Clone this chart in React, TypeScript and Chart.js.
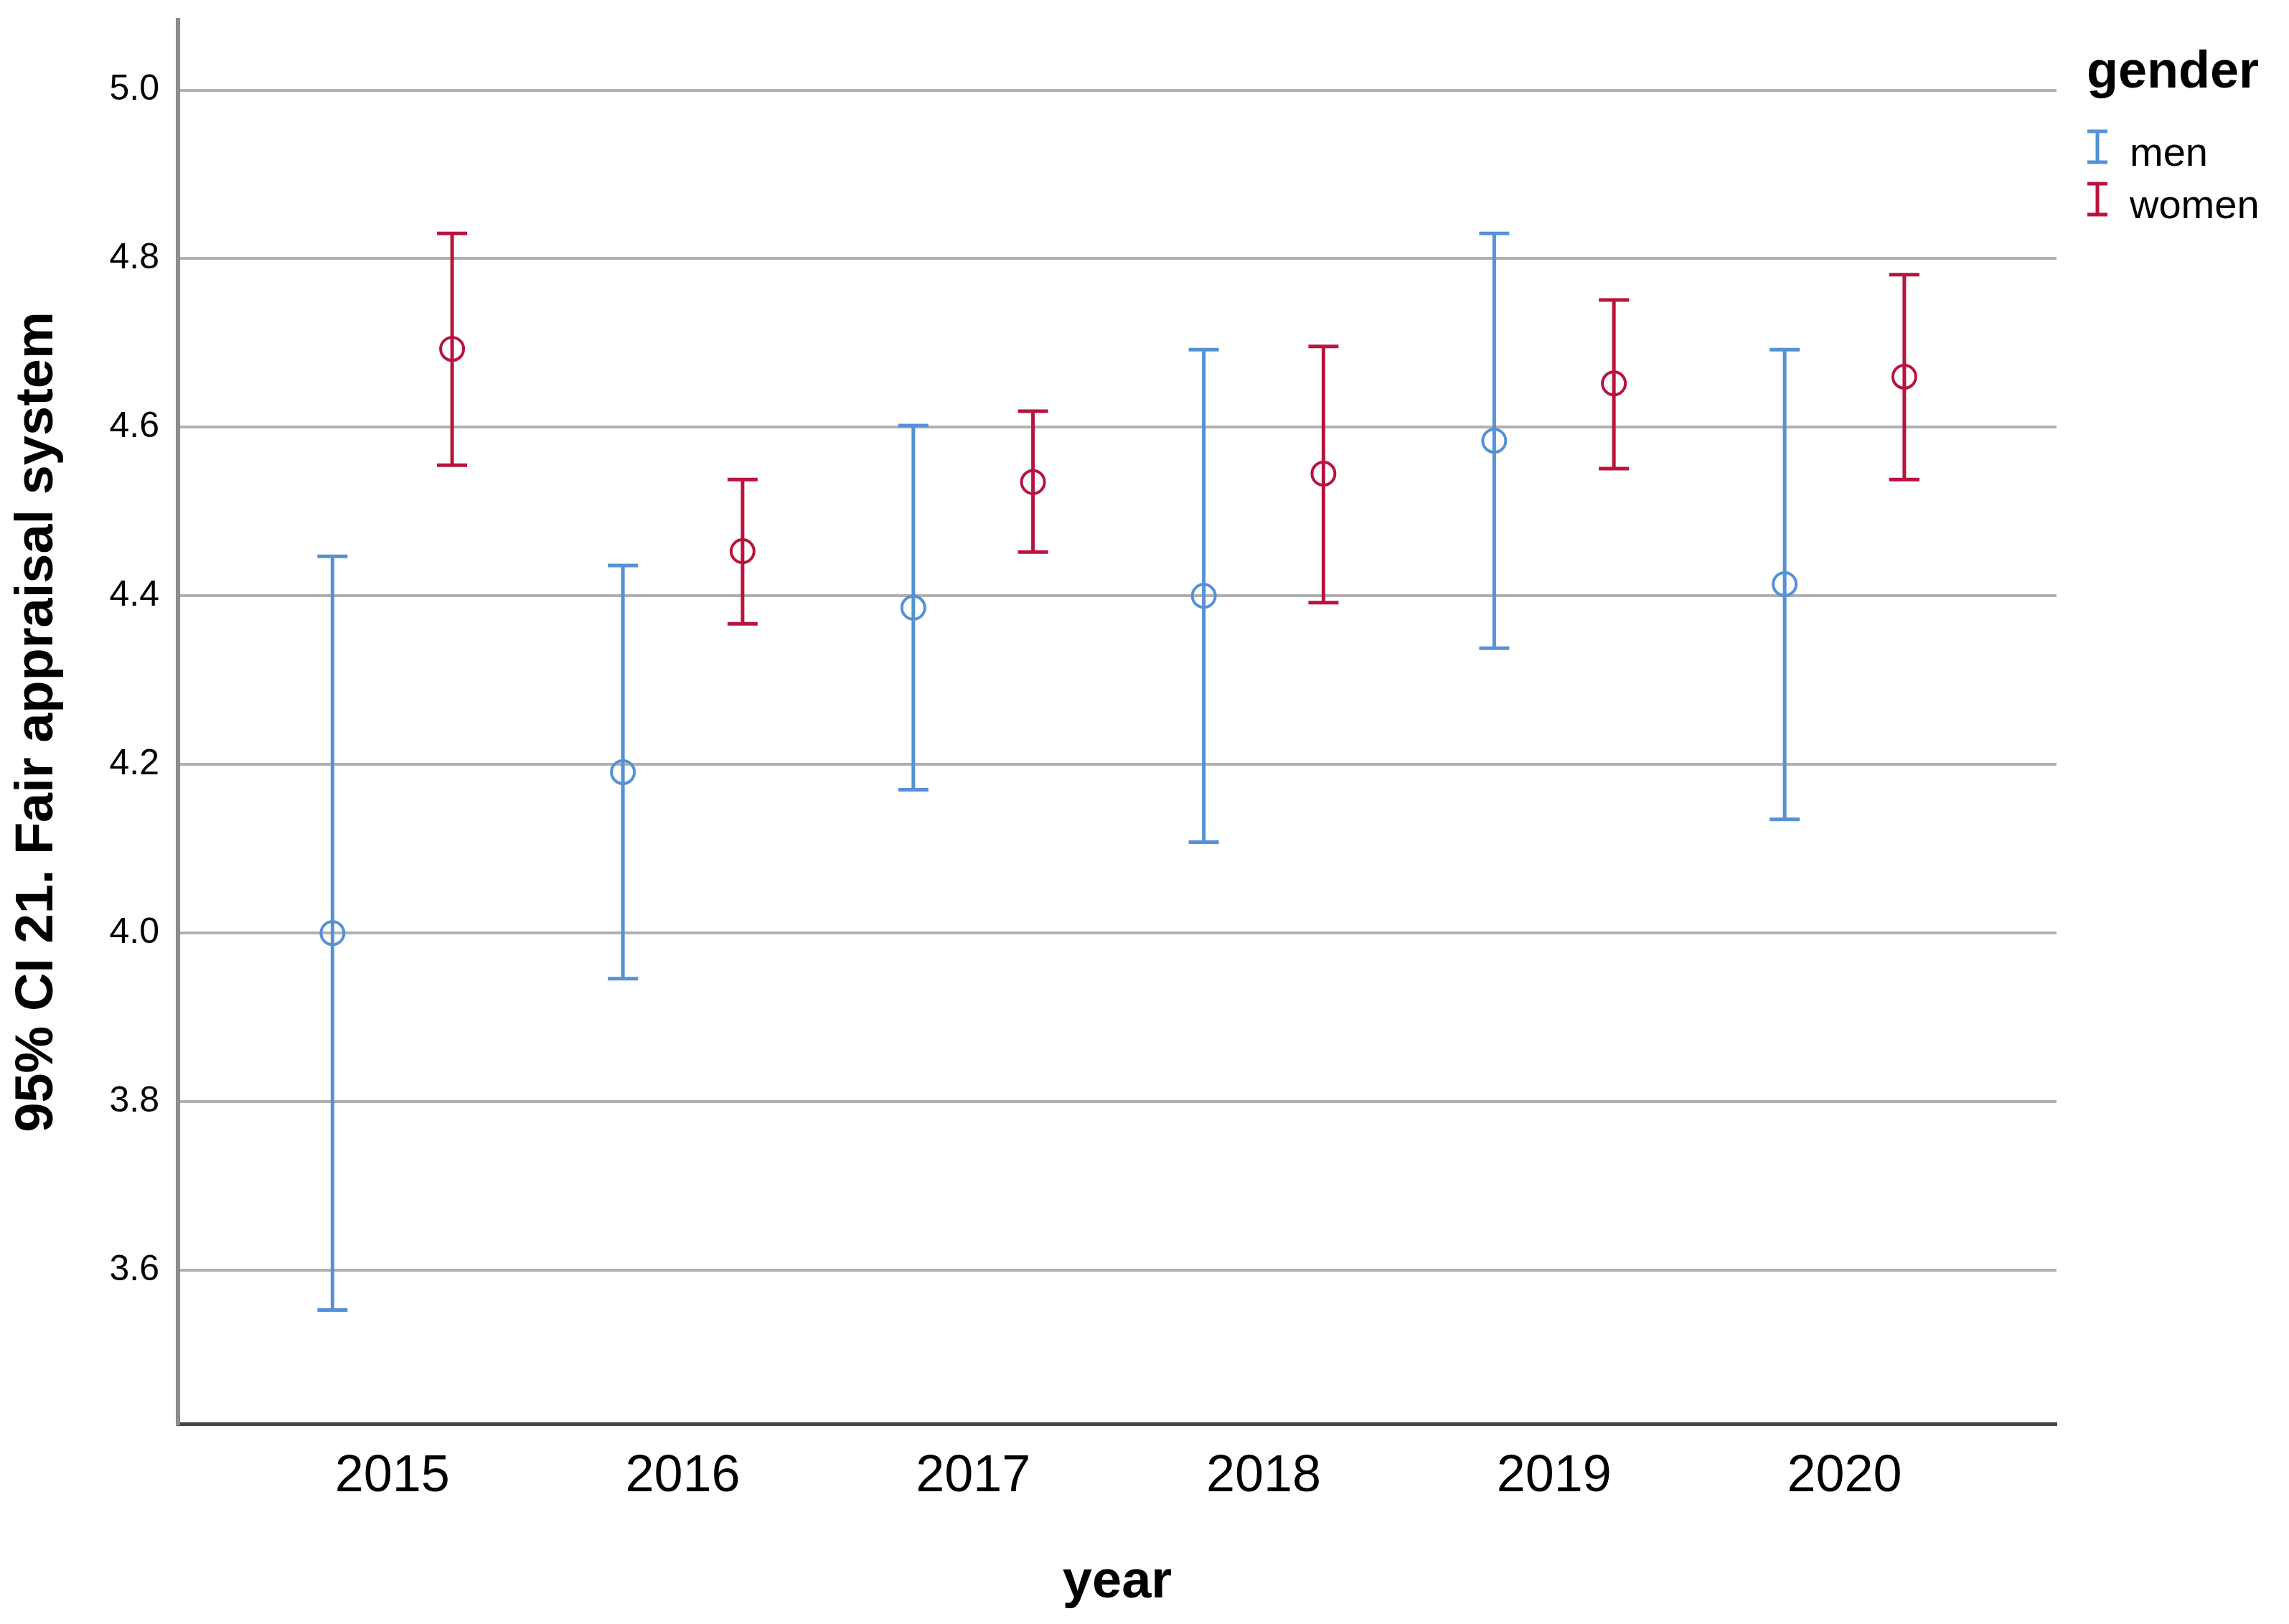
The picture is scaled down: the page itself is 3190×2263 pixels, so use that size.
import React, { useEffect, useRef } from 'react';
import { Chart, registerables } from 'chart.js';

Chart.register(...registerables);

// ---- data ----
const years = ['2015', '2016', '2017', '2018', '2019', '2020'];
const menMean = [4.0, 4.191, 4.386, 4.4, 4.584, 4.414];
const menLower = [3.553, 3.946, 4.17, 4.108, 4.338, 4.135];
const menUpper = [4.447, 4.436, 4.602, 4.692, 4.83, 4.692];
const womenMean = [4.693, 4.453, 4.535, 4.545, 4.652, 4.66];
const womenLower = [4.555, 4.367, 4.452, 4.392, 4.551, 4.538];
const womenUpper = [4.83, 4.538, 4.619, 4.696, 4.751, 4.781];
const yTickValues = [3.6, 3.8, 4.0, 4.2, 4.4, 4.6, 4.8, 5.0];
const seriesLabels = ['men', 'women'];
const legendTitle = 'gender';
const xTitle = 'year';
const yTitle = '95% CI 21. Fair appraisal system';

// ---- styling ----
const FONT = '"Liberation Sans", Arial, Helvetica, sans-serif';
const MEN_COLOR = '#5591d6';
const WOMEN_COLOR = '#b8143e';
const DODGE = 0.206;
const CAP_HALF = 21;
const BAR_WIDTH = 5;

const errorBarPlugin = {
  id: 'errorBars',
  beforeDatasetsDraw(chart: any) {
    const { ctx, scales } = chart;
    const x = scales.x;
    const y = scales.y;
    chart.data.datasets.forEach((ds: any) => {
      ds.data.forEach((pt: any) => {
        const px = x.getPixelForValue(pt.x);
        const pl = y.getPixelForValue(pt.low);
        const ph = y.getPixelForValue(pt.high);
        ctx.save();
        ctx.strokeStyle = ds.borderColor;
        ctx.lineWidth = BAR_WIDTH;
        ctx.lineCap = 'butt';
        ctx.beginPath();
        ctx.moveTo(px, pl);
        ctx.lineTo(px, ph);
        ctx.moveTo(px - CAP_HALF, pl);
        ctx.lineTo(px + CAP_HALF, pl);
        ctx.moveTo(px - CAP_HALF, ph);
        ctx.lineTo(px + CAP_HALF, ph);
        ctx.stroke();
        ctx.restore();
      });
    });
  },
};

const sideLegendPlugin = {
  id: 'sideLegend',
  afterDraw(chart: any) {
    const { ctx, chartArea } = chart;
    const left = chartArea.right + 42;
    ctx.save();
    ctx.textAlign = 'left';
    ctx.textBaseline = 'alphabetic';
    ctx.fillStyle = '#000';
    ctx.font = `bold 72px ${FONT}`;
    ctx.fillText(legendTitle, left, 122);
    chart.data.datasets.forEach((ds: any, i: number) => {
      const baseline = 231 + i * 73;
      const cx = left + 15;
      const top = baseline - 48;
      const bottom = baseline - 5;
      ctx.strokeStyle = ds.borderColor;
      ctx.lineWidth = 5;
      ctx.beginPath();
      ctx.moveTo(cx, top);
      ctx.lineTo(cx, bottom);
      ctx.moveTo(cx - 14, top);
      ctx.lineTo(cx + 14, top);
      ctx.moveTo(cx - 14, bottom);
      ctx.lineTo(cx + 14, bottom);
      ctx.stroke();
      ctx.fillStyle = '#000';
      ctx.font = `56px ${FONT}`;
      ctx.fillText(ds.label, left + 60, baseline);
    });
    ctx.restore();
  },
};

export default function App() {
  const canvasRef = useRef<HTMLCanvasElement | null>(null);

  useEffect(() => {
    document.body.style.margin = '0';
    document.body.style.overflow = 'hidden';
    const canvas = canvasRef.current;
    if (!canvas) return;

    const menData = years.map((_, i) => ({ x: i - DODGE, y: menMean[i], low: menLower[i], high: menUpper[i] }));
    const womenData = years.map((_, i) => ({ x: i + DODGE, y: womenMean[i], low: womenLower[i], high: womenUpper[i] }));

    const chart = new Chart(canvas, {
      type: 'scatter',
      data: {
        datasets: [
          {
            label: seriesLabels[0],
            data: menData,
            borderColor: MEN_COLOR,
            backgroundColor: 'rgba(0,0,0,0)',
            pointStyle: 'circle',
            pointRadius: 16,
            pointBorderWidth: 4,
            showLine: false,
          },
          {
            label: seriesLabels[1],
            data: womenData,
            borderColor: WOMEN_COLOR,
            backgroundColor: 'rgba(0,0,0,0)',
            pointStyle: 'circle',
            pointRadius: 16,
            pointBorderWidth: 4,
            showLine: false,
          },
        ],
      } as any,
      options: {
        animation: false,
        responsive: false,
        events: [],
        layout: { padding: { top: 28, right: 324, left: 0, bottom: 0 } },
        plugins: {
          legend: { display: false },
          tooltip: { enabled: false },
        },
        scales: {
          x: {
            type: 'linear',
            min: -0.738,
            max: 5.73,
            afterBuildTicks: (s: any) => {
              s.ticks = years.map((_, i) => ({ value: i }));
            },
            afterFit: (s: any) => {
              s.height = 279;
              s.paddingLeft = 0;
              s.paddingRight = 0;
            },
            ticks: {
              padding: 31,
              color: '#000',
              font: { family: FONT, size: 72 },
              maxRotation: 0,
              autoSkip: false,
              callback: (v: any) => years[Math.round(Number(v))] ?? '',
            },
            grid: { display: false, drawTicks: false },
            border: { display: true, color: '#444444', width: 5 },
            title: {
              display: true,
              text: xTitle,
              color: '#000',
              font: { family: FONT, size: 74, weight: 'bold' },
              padding: { top: 0, bottom: 13 },
            },
          },
          y: {
            type: 'linear',
            min: 3.418,
            max: 5.083,
            afterBuildTicks: (s: any) => {
              s.ticks = yTickValues.map((v) => ({ value: v }));
            },
            afterFit: (s: any) => {
              s.width = 248;
              s.paddingTop = 0;
              s.paddingBottom = 0;
            },
            ticks: {
              padding: 26,
              color: '#000',
              font: { family: FONT, size: 50 },
              callback: (v: any) => Number(v).toFixed(1),
            },
            grid: { color: '#b0b0b0', lineWidth: 4, drawTicks: false },
            border: { display: true, color: '#8c8c8c', width: 6 },
            title: {
              display: true,
              text: yTitle,
              color: '#000',
              font: { family: FONT, size: 74, weight: 'bold' },
              padding: { top: 8, bottom: 0 },
            },
          },
        },
      } as any,
      plugins: [errorBarPlugin, sideLegendPlugin],
    });

    return () => {
      chart.destroy();
    };
  }, []);

  return (
    <div style={{ width: 3190, height: 2263, background: '#fff' }}>
      <canvas ref={canvasRef} width={3190} height={2263} style={{ display: 'block' }} />
    </div>
  );
}
